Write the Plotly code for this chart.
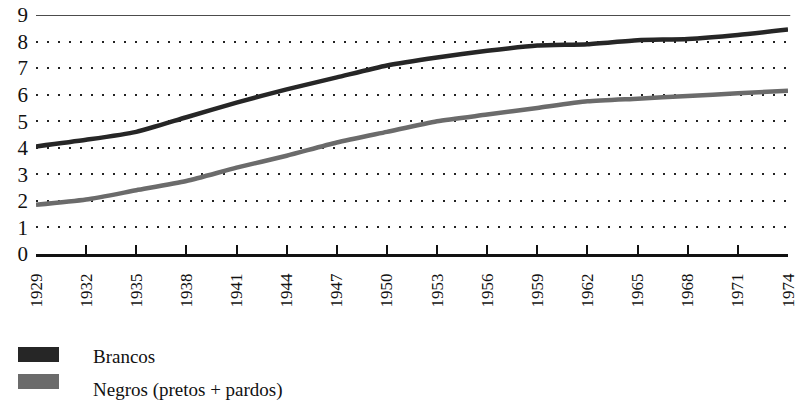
import plotly.graph_objects as go

years = [1929, 1932, 1935, 1938, 1941, 1944, 1947, 1950, 1953, 1956, 1959, 1962, 1965, 1968, 1971, 1974]
brancos = [4.05, 4.3, 4.6, 5.15, 5.7, 6.2, 6.65, 7.1, 7.4, 7.65, 7.85, 7.9, 8.05, 8.1, 8.25, 8.45]
negros = [1.85, 2.05, 2.4, 2.75, 3.25, 3.7, 4.2, 4.6, 5.0, 5.25, 5.5, 5.75, 5.85, 5.95, 6.05, 6.15]
series_names = ["Brancos", "Negros (pretos + pardos)"]
series_colors = ["#262626", "#6b6b6b"]
y_ticks = [0, 1, 2, 3, 4, 5, 6, 7, 8, 9]

FONT = "Liberation Serif"

# figure fills the whole window (body margin removed in the page)
W, H = 804, 403
L, T = 36, 15
R = W - 788
B = H - 254
PW, PH = W - L - R, H - T - B

def px_x(x):
    return (x - L) / PW

def px_y(y):
    return (H - B - y) / PH

fig = go.Figure()
for name, vals, col in zip(series_names, [brancos, negros], series_colors):
    fig.add_trace(go.Scatter(x=years, y=vals, mode="lines", name=name,
                             line=dict(color=col, width=4.5, shape="spline", smoothing=0.6),
                             cliponaxis=False, showlegend=False))

# top solid line at 9
fig.add_shape(type="line", xref="paper", yref="y", x0=0, x1=1.003, y0=9, y1=9,
              line=dict(color="#111", width=1.5))

# legend drawn as swatches + labels
sw_top = [347, 374]
txt_mid = [356, 390]
for i, (name, col) in enumerate(zip(series_names, series_colors)):
    fig.add_shape(type="rect", xref="paper", yref="paper",
                  x0=px_x(18), x1=px_x(59),
                  y0=px_y(sw_top[i] + 15), y1=px_y(sw_top[i]),
                  line=dict(width=0), fillcolor=col)
    fig.add_annotation(xref="paper", yref="paper", x=px_x(91), y=px_y(txt_mid[i]),
                       text=name, showarrow=False, xanchor="left", yanchor="middle",
                       font=dict(size=19, family=FONT, color="#111"))

fig.update_layout(
    width=W, height=H,
    margin=dict(l=L, r=R, t=T, b=B),
    paper_bgcolor="white", plot_bgcolor="white",
    font=dict(family=FONT, color="#111"),
    xaxis=dict(range=[1929, 1974], tickvals=years, ticktext=[str(y) for y in years],
               tickangle=-90, ticks="inside", ticklen=9, tickwidth=2, tickcolor="#111",
               showline=True, linecolor="#111", linewidth=2.5, showgrid=False,
               zeroline=False, automargin=False, ticklabelstandoff=10,
               tickfont=dict(size=17, family=FONT, color="#111")),
    yaxis=dict(range=[0, 9], tickvals=y_ticks, showline=False, zeroline=False,
               showgrid=True, gridcolor="#222", gridwidth=2, griddash="2px,9px",
               automargin=False, ticklabeloverflow="allow",
               tickfont=dict(size=21, family=FONT, color="#111"), ticklabelstandoff=7),
)

fig.write_html("out.html", config={"displayModeBar": False},
               post_script="document.body.style.margin='0';")
